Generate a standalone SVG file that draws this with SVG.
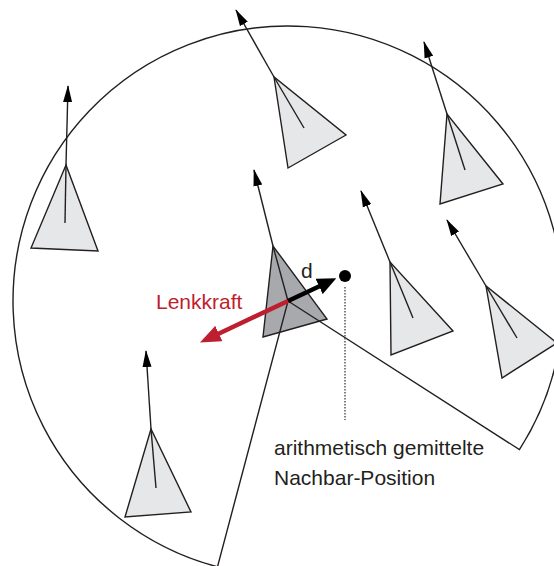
<svg xmlns="http://www.w3.org/2000/svg" width="554" height="566" viewBox="0 0 554 566">
<style>
.tri{fill:#e6e7e8;stroke:#231f20;stroke-width:1.4;stroke-linejoin:miter}
.tri-main{fill:#a7a9ac;stroke:#231f20;stroke-width:1.4}
.ln{fill:none;stroke:#231f20;stroke-width:1.4}
.head{stroke:#231f20;stroke-width:1.4;fill:none}
.lbl{font-family:"Liberation Sans",Arial,sans-serif;font-size:21px;fill:#231f20}
</style>
<defs>
<marker id="ah" markerUnits="userSpaceOnUse" markerWidth="17" markerHeight="10" viewBox="0 0 17 10" refX="16" refY="5" orient="auto">
<path d="M0,0.5 L17,5 L0,9.5 Z" fill="#000"/>
</marker>
<marker id="ahBlack" markerUnits="userSpaceOnUse" markerWidth="19" markerHeight="17" viewBox="0 0 19 17" refX="1" refY="8.5" orient="auto">
<path d="M0,0 L19,8.5 L0,17 Z" fill="#000"/>
</marker>
<marker id="ahRed" markerUnits="userSpaceOnUse" markerWidth="21" markerHeight="17" viewBox="0 0 21 17" refX="1" refY="8.5" orient="auto">
<path d="M0,0 L21,8.5 L0,17 Z" fill="#be1e2d"/>
</marker>
</defs>
<rect width="554" height="566" fill="#fff"/>

<g id="boid-a">
<polygon class="tri" points="66,165 31,248 98,251"/>
<line class="ln" x1="66" y1="165" x2="65" y2="223"/>
</g>
<g id="boid-b">
<polygon class="tri" points="274,77 288,168 346,135"/>
<line class="ln" x1="274" y1="77" x2="304" y2="128"/>
</g>
<g id="boid-c">
<polygon class="tri" points="447,114 440,204 503,184"/>
<line class="ln" x1="447" y1="114" x2="465" y2="170"/>
</g>
<g id="boid-d">
<polygon class="tri" points="390,262 391,355 453,331"/>
<line class="ln" x1="390" y1="262" x2="413" y2="318"/>
</g>
<g id="boid-e">
<polygon class="tri" points="486,286 502,378 557,343"/>
<line class="ln" x1="486" y1="286" x2="517" y2="338"/>
</g>
<g id="boid-f">
<polygon class="tri" points="151,429 125,517 191,512"/>
<line class="ln" x1="151" y1="429" x2="156" y2="488"/>
</g>
<g id="boid-main">
<polygon class="tri-main" points="273,246 263,337 327,319"/>
<line class="ln" x1="273" y1="246" x2="288" y2="301"/>
</g>

<g id="sector">
<path class="ln" d="M217.5,566.8 A275,275 0 1 1 519.4,449.6 L288,301 Z"/>
</g>

<g id="neighbor-position">
<circle cx="345" cy="276" r="6" fill="#000"/>
<line x1="345" y1="287" x2="345" y2="420" stroke="#555" stroke-width="1.5" stroke-dasharray="1.5,1.5"/>
</g>

<g id="connectors">
<line class="ln" x1="66" y1="165" x2="68" y2="86" marker-end="url(#ah)"/>
<line class="ln" x1="274" y1="77" x2="236" y2="10" marker-end="url(#ah)"/>
<line class="ln" x1="447" y1="114" x2="424" y2="42" marker-end="url(#ah)"/>
<line class="ln" x1="390" y1="262" x2="361" y2="191" marker-end="url(#ah)"/>
<line class="ln" x1="486" y1="286" x2="447" y2="220" marker-end="url(#ah)"/>
<line class="ln" x1="151" y1="429" x2="146" y2="351" marker-end="url(#ah)"/>
<line class="ln" x1="273" y1="246" x2="254" y2="170" marker-end="url(#ah)"/>
<line x1="288" y1="301" x2="320" y2="286" stroke="#000" stroke-width="4.5" marker-end="url(#ahBlack)"/>
<line x1="288" y1="301" x2="218" y2="334" stroke="#be1e2d" stroke-width="4.5" marker-end="url(#ahRed)"/>
</g>

<g id="labels">
<text class="lbl" x="301" y="278">d</text>
<text class="lbl" x="156" y="309" fill="#be1e2d" style="fill:#be1e2d">Lenkkraft</text>
<text class="lbl" x="274" y="455">arithmetisch gemittelte</text>
<text class="lbl" x="274" y="485">Nachbar-Position</text>
</g>
</svg>
